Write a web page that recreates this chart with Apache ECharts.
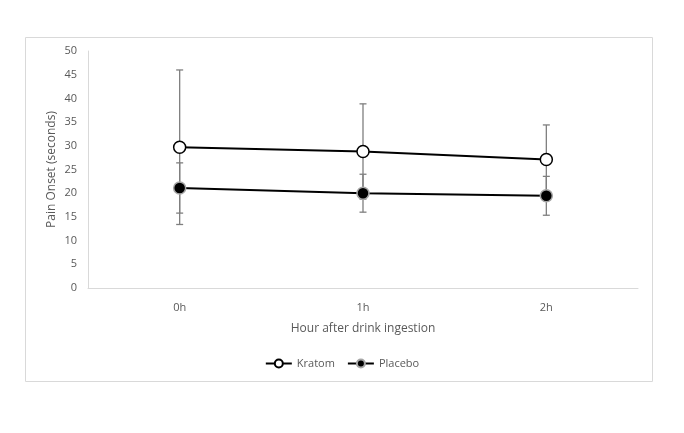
<!DOCTYPE html>
<html>
<head>
<meta charset="utf-8">
<script src="https://cdn.jsdelivr.net/npm/echarts@6/dist/echarts.min.js"></script>
<style>
  html, body { margin: 0; padding: 0; background: #fff; }
  #pain-onset { width: 684px; height: 433px; }
</style>
</head>
<body>
<div id="pain-onset"></div>
<script>
// data
var hours = ['0h', '1h', '2h'];
var kratomMean = [29.7, 28.8, 27.1];
var kratomErr = [16.3, 10.05, 7.3];
var placeboMean = [21.1, 20.0, 19.45];
var placeboErr = [5.3, 4.0, 4.1];
var yTicks = { min: 0, max: 50, interval: 5 };

var FONT = "'Open Sans', sans-serif";
var GREY_TXT = '#595959';

function errRows(mean, err) {
  return mean.map(function (m, i) { return [i, m - err[i], m + err[i]]; });
}

// whiskers: vertical line + small caps
function drawErr(params, api) {
  var x = api.value(0);
  var lo = api.coord([x, api.value(1)]);
  var hi = api.coord([x, api.value(2)]);
  var w = 3.5;
  var st = { stroke: '#7f7f7f', lineWidth: 1.3 };
  return {
    type: 'group',
    children: [
      { type: 'line', shape: { x1: hi[0], y1: hi[1], x2: lo[0], y2: lo[1] }, style: st },
      { type: 'line', shape: { x1: hi[0] - w, y1: hi[1], x2: hi[0] + w, y2: hi[1] }, style: st },
      { type: 'line', shape: { x1: lo[0] - w, y1: lo[1], x2: lo[0] + w, y2: lo[1] }, style: st }
    ]
  };
}

var myChart = echarts.init(document.getElementById('pain-onset'));
var option = {
  animation: false,
  textStyle: { fontFamily: FONT },
  graphic: [{
    type: 'rect',
    shape: { x: 25.5, y: 37.5, width: 627, height: 344 },
    style: { fill: 'none', stroke: '#d9d9d9', lineWidth: 1 },
    silent: true
  }],
  grid: { left: 88, right: 46, top: 51, bottom: 145 },
  legend: {
    bottom: 59,
    left: 'center',
    itemWidth: 26,
    itemHeight: 10,
    itemGap: 12,
    textStyle: { color: GREY_TXT, fontSize: 11, fontFamily: FONT },
    data: ['Kratom', 'Placebo']
  },
  xAxis: {
    type: 'category',
    data: hours,
    name: 'Hour after drink ingestion',
    nameLocation: 'middle',
    nameGap: 35,
    nameTextStyle: { color: GREY_TXT, fontSize: 12 },
    axisLine: { lineStyle: { color: '#d9d9d9', width: 1 } },
    axisTick: { show: false },
    axisLabel: { color: GREY_TXT, fontSize: 11, margin: 14 }
  },
  yAxis: {
    type: 'value',
    min: yTicks.min,
    max: yTicks.max,
    interval: yTicks.interval,
    name: 'Pain Onset (seconds)',
    nameLocation: 'middle',
    nameGap: 30,
    nameMoveOverlap: false,
    nameTextStyle: { color: GREY_TXT, fontSize: 12 },
    axisLine: { show: true, lineStyle: { color: '#d9d9d9', width: 1 } },
    axisTick: { show: false },
    splitLine: { show: false },
    axisLabel: { color: GREY_TXT, fontSize: 11, margin: 11 }
  },
  series: [
    {
      type: 'custom',
      name: 'kratomErr',
      renderItem: drawErr,
      data: errRows(kratomMean, kratomErr),
      encode: { x: 0, y: [1, 2] },
      z: 1
    },
    {
      type: 'custom',
      name: 'placeboErr',
      renderItem: drawErr,
      data: errRows(placeboMean, placeboErr),
      encode: { x: 0, y: [1, 2] },
      z: 1
    },
    {
      name: 'Kratom',
      type: 'line',
      data: kratomMean,
      symbol: 'circle',
      symbolSize: 12,
      lineStyle: { color: '#000', width: 2 },
      itemStyle: { color: '#fff', borderColor: '#000', borderWidth: 1.5 },
      z: 3
    },
    {
      name: 'Placebo',
      type: 'line',
      data: placeboMean,
      symbol: 'circle',
      symbolSize: 12,
      lineStyle: { color: '#000', width: 2 },
      itemStyle: { color: '#000', borderColor: '#a6a6a6', borderWidth: 1.5 },
      z: 3
    }
  ]
};
myChart.setOption(option);
window.addEventListener('resize', function () { myChart.resize(); });
</script>
</body>
</html>
